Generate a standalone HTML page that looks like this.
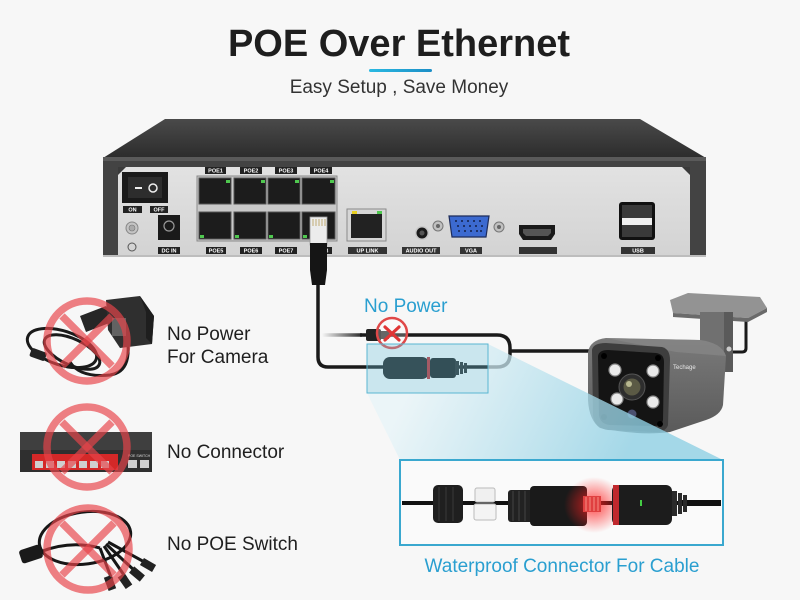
<!DOCTYPE html>
<html><head><meta charset="utf-8"><style>
html,body{margin:0;padding:0;background:#f7f7f7;}
svg{display:block;}
text{font-family:"Liberation Sans",Arial,sans-serif;}
.lb{font-size:5.5px;font-weight:bold;fill:#fff;text-anchor:middle;}
</style></head><body>
<svg width="800" height="600" viewBox="0 0 800 600" xmlns="http://www.w3.org/2000/svg">
<defs>
<linearGradient id="topf" x1="0" y1="0" x2="0" y2="1"><stop offset="0" stop-color="#4a4a4a"/><stop offset="1" stop-color="#2c2c2c"/></linearGradient>
<linearGradient id="panel" x1="0" y1="0" x2="0" y2="1"><stop offset="0" stop-color="#e2e2e2"/><stop offset="1" stop-color="#d3d3d3"/></linearGradient>
<linearGradient id="cone" x1="420" y1="370" x2="620" y2="470" gradientUnits="userSpaceOnUse"><stop offset="0" stop-color="#e6f4f8" stop-opacity="0.7"/><stop offset="1" stop-color="#8fd0e4" stop-opacity="0.8"/></linearGradient>
<linearGradient id="fade" x1="322" y1="0" x2="365" y2="0" gradientUnits="userSpaceOnUse"><stop offset="0" stop-color="#1a1a1a" stop-opacity="0"/><stop offset="1" stop-color="#1a1a1a"/></linearGradient>
<linearGradient id="body" x1="0" y1="0" x2="0" y2="1"><stop offset="0" stop-color="#7a7a7a"/><stop offset="1" stop-color="#5a5a5a"/></linearGradient>
<linearGradient id="uline" x1="0" y1="0" x2="1" y2="0"><stop offset="0" stop-color="#2ab9e2"/><stop offset="1" stop-color="#1c8ec6"/></linearGradient>
<radialGradient id="glow"><stop offset="0" stop-color="#ff2020" stop-opacity="0.8"/><stop offset="1" stop-color="#ff2020" stop-opacity="0"/></radialGradient>
</defs>
<rect width="800" height="600" fill="#f7f7f7"/>

<!-- Title -->
<text x="399" y="56" font-size="38" font-weight="bold" fill="#1e1e1e" text-anchor="middle">POE Over Ethernet</text>
<rect x="369" y="69" width="63" height="3" rx="1.5" fill="url(#uline)"/>
<text x="399" y="93" font-size="19" fill="#333" text-anchor="middle">Easy Setup , Save Money</text>

<!-- NVR -->
<polygon points="165,119 640,119 706,158 103,158" fill="url(#topf)"/>
<rect x="103" y="157" width="603" height="99" fill="#434343"/>
<rect x="103" y="157" width="603" height="4" fill="#5a5a5a"/>
<polygon points="118,167 690,167 690,255 118,255" fill="url(#panel)"/>
<polygon points="118,167 126,167 118,175" fill="#3a3a3a"/>
<polygon points="690,167 682,167 690,175" fill="#3a3a3a"/>
<rect x="103" y="255" width="603" height="2" fill="#bdbdbd"/>

<!-- switch -->
<rect x="122" y="172" width="46" height="31" fill="#1a1a1a"/>
<rect x="128" y="177" width="34" height="21" fill="#2d2d2d"/>
<rect x="135" y="187" width="7" height="2" fill="#eee"/>
<circle cx="153" cy="188" r="4" fill="none" stroke="#eee" stroke-width="1.5"/>
<rect x="123" y="206" width="19" height="7" fill="#222"/><text x="132.5" y="211.7" class="lb">ON</text>
<rect x="150" y="206" width="18" height="7" fill="#222"/><text x="159" y="211.7" class="lb">OFF</text>
<circle cx="132" cy="228" r="6" fill="#c4c4c4" stroke="#888"/><circle cx="132" cy="228" r="3" fill="#aaa" stroke="#777" stroke-width=".6"/>
<circle cx="132" cy="247" r="4" fill="none" stroke="#555" stroke-width="1"/>
<rect x="158" y="215" width="22" height="25" fill="#1a1a1a"/>
<circle cx="169" cy="226" r="5" fill="none" stroke="#999" stroke-width="1.2"/>
<rect x="158" y="247" width="22" height="7" fill="#222"/><text x="169" y="252.7" class="lb">DC IN</text>

<!-- POE block -->
<rect x="197" y="176" width="140" height="65" fill="#c9c9c9" stroke="#8a8a8a"/>
<g fill="#1c1c1c" stroke="#555" stroke-width="1">
<rect x="199" y="178" width="32" height="26"/><rect x="234" y="178" width="32" height="26"/><rect x="268" y="178" width="32" height="26"/><rect x="302" y="178" width="33" height="26"/>
<rect x="199" y="212" width="32" height="27"/><rect x="234" y="212" width="32" height="27"/><rect x="268" y="212" width="32" height="27"/><rect x="302" y="212" width="33" height="27"/>
</g>
<g fill="#4fc84f">
<rect x="226" y="180" width="4" height="3"/><rect x="261" y="180" width="4" height="3"/><rect x="295" y="180" width="4" height="3"/><rect x="330" y="180" width="4" height="3"/>
<rect x="200" y="235" width="4" height="3"/><rect x="235" y="235" width="4" height="3"/><rect x="269" y="235" width="4" height="3"/><rect x="303" y="235" width="4" height="3"/>
</g>
<g fill="#222">
<rect x="205" y="167" width="21" height="7"/><rect x="240" y="167" width="22" height="7"/><rect x="275" y="167" width="22" height="7"/><rect x="310" y="167" width="22" height="7"/>
<rect x="206" y="247" width="20" height="7"/><rect x="240" y="247" width="22" height="7"/><rect x="275" y="247" width="22" height="7"/><rect x="310" y="247" width="22" height="7"/>
</g>
<text x="215.5" y="172.7" class="lb">POE1</text><text x="251" y="172.7" class="lb">POE2</text><text x="286" y="172.7" class="lb">POE3</text><text x="321" y="172.7" class="lb">POE4</text>
<text x="216" y="252.7" class="lb">POE5</text><text x="251" y="252.7" class="lb">POE6</text><text x="286" y="252.7" class="lb">POE7</text><text x="321" y="252.7" class="lb">POE8</text>

<!-- RJ45 plug into POE8 -->
<rect x="310" y="217" width="17" height="28" fill="#ececec" stroke="#999" stroke-width=".8"/>
<g stroke="#b09040" stroke-width=".7"><line x1="313" y1="219" x2="313" y2="226"/><line x1="316" y1="219" x2="316" y2="226"/><line x1="319" y1="219" x2="319" y2="226"/><line x1="322" y1="219" x2="322" y2="226"/><line x1="325" y1="219" x2="325" y2="226"/></g>
<polygon points="310,243 327,243 327,270 325,285 312,285 310,270" fill="#151515"/>

<!-- UPLINK -->
<rect x="347" y="209" width="39" height="32" fill="#d6d6d6" stroke="#8a8a8a"/>
<rect x="351" y="214" width="31" height="24" fill="#222"/>
<rect x="352" y="211" width="5" height="3" fill="#e8d020"/><rect x="377" y="211" width="5" height="3" fill="#4fc84f"/>
<rect x="348" y="247" width="39" height="7" fill="#333"/><text x="367.5" y="252.7" class="lb">UP LINK</text>
<!-- audio -->
<circle cx="422" cy="233" r="7" fill="#c8c8c8"/><circle cx="422" cy="233" r="5.5" fill="#1a1a1a"/><circle cx="422" cy="233" r="2.5" fill="#555"/>
<rect x="402" y="247" width="38" height="7" fill="#333"/><text x="421" y="252.7" class="lb">AUDIO OUT</text>
<!-- VGA -->
<circle cx="438" cy="226" r="5" fill="#c0c0c0" stroke="#777"/><circle cx="438" cy="226" r="2" fill="#666"/>
<circle cx="499" cy="227" r="5" fill="#c0c0c0" stroke="#777"/><circle cx="499" cy="227" r="2" fill="#666"/>
<path d="M449,216 H489 L486,237 H452 Z" fill="#3c6ad0" stroke="#1e2c5a" stroke-width="1.2"/>
<g fill="#14204a"><circle cx="456" cy="221" r="1"/><circle cx="462" cy="221" r="1"/><circle cx="468" cy="221" r="1"/><circle cx="474" cy="221" r="1"/><circle cx="480" cy="221" r="1"/>
<circle cx="458" cy="226" r="1"/><circle cx="464" cy="226" r="1"/><circle cx="470" cy="226" r="1"/><circle cx="476" cy="226" r="1"/><circle cx="482" cy="226" r="1"/>
<circle cx="459" cy="231" r="1"/><circle cx="465" cy="231" r="1"/><circle cx="471" cy="231" r="1"/><circle cx="477" cy="231" r="1"/><circle cx="481" cy="231" r="1"/></g>
<rect x="460" y="247" width="22" height="7" fill="#333"/><text x="471" y="252.7" class="lb">VGA</text>
<!-- HDMI -->
<path d="M519,225 H555 V234 L551,240 H523 L519,234 Z" fill="#1a1a1a"/>
<path d="M523,229 H551 V233 L548,236 H526 L523,233 Z" fill="#555"/>
<rect x="519" y="247" width="38" height="7" fill="#333"/>
<!-- USB -->
<rect x="619" y="202" width="36" height="38" rx="3" fill="#111"/>
<rect x="622" y="205" width="30" height="14" fill="#3a3a3a"/>
<rect x="622" y="218" width="30" height="7" fill="#f0f0f0"/>
<rect x="622" y="225" width="30" height="12" fill="#3a3a3a"/>
<rect x="621" y="247" width="34" height="7" fill="#333"/><text x="638" y="252.7" class="lb">USB</text>

<!-- cables -->
<path d="M318,285 V357 Q318,367 328,367 H497 Q510,367 510,354 V348 Q510,335 497,335 H360" fill="none" stroke="#1a1a1a" stroke-width="3.5"/>
<line x1="322" y1="335" x2="362" y2="335" stroke="url(#fade)" stroke-width="3.5"/>
<line x1="510" y1="351" x2="592" y2="351" stroke="#1a1a1a" stroke-width="3.5"/>
<!-- DC plug -->
<rect x="366" y="329" width="15" height="12" rx="2" fill="#222"/>
<rect x="381" y="331" width="8" height="8" fill="#333"/>
<circle cx="392" cy="333" r="15" fill="#ffffff" fill-opacity="0.25" stroke="#e04848" stroke-width="2.5"/>
<g stroke="#e03535" stroke-width="3.2" stroke-linecap="round"><line x1="385" y1="327" x2="399" y2="340"/><line x1="399" y1="327" x2="385" y2="340"/></g>
<text x="364" y="312" font-size="19" fill="#2a9fd0">No Power</text>
<!-- waterproof connector on cable -->
<rect x="383" y="357" width="46" height="22" rx="7" fill="#1c1c1c"/>
<rect x="427" y="357" width="3" height="22" fill="#c0282d"/>
<rect x="430" y="358" width="26" height="20" rx="3" fill="#181818"/>
<g fill="#262626"><rect x="455" y="361" width="4" height="14"/><rect x="460" y="362" width="3" height="12"/><rect x="464" y="363" width="3" height="10"/></g>

<!-- camera -->
<path d="M723,352 H742 Q746,352 746,348 V318" fill="none" stroke="#1a1a1a" stroke-width="3"/>
<polygon points="670,300 688,293 760,297 767,308 748,318 673,313" fill="#939393"/>
<polygon points="673,313 748,318 767,308 767,312 748,322 673,317" fill="#6a6a6a"/>
<rect x="700" y="312" width="33" height="60" fill="#707070"/>
<rect x="724" y="312" width="9" height="60" fill="#5a5a5a"/>
<circle cx="729" cy="349" r="2.5" fill="#ccc"/>
<path d="M588,352 Q590,340 606,338 L700,340 Q722,343 726,356 L723,405 Q721,415 706,420 L670,432 Q640,436 600,428 Q589,420 588,400 Z" fill="url(#body)"/>
<path d="M606,338 L700,340 Q722,343 726,356 L676,352 Z" fill="#8a8a8a" opacity=".6"/>
<path d="M592,350 Q593,343 606,343 L662,347 Q670,349 670,360 L668,425 Q666,432 655,432 L608,430 Q594,428 593,415 Z" fill="#3e3e3e"/>
<path d="M598,356 Q599,350 608,350 L656,353 Q664,354 664,362 L663,420 Q662,426 654,426 L610,425 Q600,424 599,415 Z" fill="#141414"/>
<g fill="#000"><circle cx="604" cy="356" r="3"/><circle cx="658" cy="358" r="3"/><circle cx="604" cy="417" r="3"/><circle cx="660" cy="424" r="3"/></g>
<g fill="#eaeaea" stroke="#888" stroke-width="1.2"><circle cx="615" cy="370" r="6"/><circle cx="653" cy="371" r="6"/><circle cx="617" cy="399" r="6"/><circle cx="653" cy="402" r="6"/></g>
<circle cx="632" cy="387" r="13" fill="#2e2e2e" stroke="#555"/>
<circle cx="632" cy="387" r="8.5" fill="#5b5a45"/>
<circle cx="629" cy="384" r="3" fill="#b8b890"/>
<circle cx="632" cy="414" r="4.5" fill="#4a5070"/>
<text x="673" y="369" font-size="6" fill="#e8e8e8">Techage</text>

<!-- cone -->
<polygon points="367,393 488,393 488,344 723,460 400,460" fill="url(#cone)"/>
<!-- highlight box -->
<rect x="367" y="344" width="121" height="49" fill="#6cc3dd" fill-opacity="0.32" stroke="#5ab6d2" stroke-width="1"/>

<!-- large box -->
<rect x="400" y="460" width="323" height="85" fill="#fafafa" stroke="#3aa8cf" stroke-width="2"/>
<line x1="402" y1="503" x2="690" y2="503" stroke="#111" stroke-width="4"/>
<line x1="680" y1="503" x2="721" y2="503" stroke="#111" stroke-width="6"/>
<rect x="433" y="485" width="30" height="38" rx="5" fill="#1f1f1f"/>
<g stroke="#3a3a3a" stroke-width="1"><line x1="439" y1="487" x2="439" y2="521"/><line x1="446" y1="487" x2="446" y2="521"/><line x1="453" y1="487" x2="453" y2="521"/></g>
<rect x="475" y="488" width="20" height="14" rx="2" fill="#f0f0f0" stroke="#bbb"/>
<rect x="474" y="504" width="22" height="16" rx="2" fill="#f4f4f4" stroke="#bbb"/>
<rect x="508" y="490" width="26" height="32" rx="3" fill="#222"/>
<g stroke="#444" stroke-width="1"><line x1="513" y1="491" x2="513" y2="521"/><line x1="519" y1="491" x2="519" y2="521"/><line x1="525" y1="491" x2="525" y2="521"/></g>
<rect x="530" y="486" width="57" height="40" rx="4" fill="#1a1a1a"/>
<ellipse cx="594" cy="505" rx="30" ry="28" fill="url(#glow)"/>
<rect x="583" y="496" width="18" height="16" fill="#e04040"/>
<g stroke="#ffb0a0" stroke-width=".7"><line x1="586" y1="497" x2="586" y2="511"/><line x1="590" y1="497" x2="590" y2="511"/><line x1="594" y1="497" x2="594" y2="511"/><line x1="598" y1="497" x2="598" y2="511"/></g>
<rect x="612" y="485" width="60" height="40" rx="6" fill="#1c1c1c"/>
<rect x="613" y="485" width="6" height="40" fill="#c0282d"/>
<rect x="640" y="500" width="2" height="6" fill="#4c4"/>
<g fill="#2a2a2a"><rect x="672" y="491" width="5" height="25"/><rect x="678" y="493" width="4" height="21"/><rect x="683" y="495" width="4" height="17"/></g>
<text x="562" y="572" font-size="19" fill="#2a9fd0" text-anchor="middle">Waterproof Connector For Cable</text>

<!-- Left: power adapter -->
<g fill="none" stroke="#1a1a1a" stroke-width="3">
<ellipse cx="62" cy="348" rx="36" ry="17" transform="rotate(18 62 348)"/>
<ellipse cx="72" cy="352" rx="30" ry="13" transform="rotate(25 72 352)"/>
<path d="M128,345 Q130,372 110,375 Q80,378 70,362"/>
</g>
<rect x="30" y="350" width="16" height="9" rx="2" fill="#222" transform="rotate(20 38 355)"/>
<polygon points="80,316 106,306 112,322 86,332" fill="#262626"/>
<polygon points="106,300 140,296 154,316 152,344 120,348 108,330" fill="#2f2f2f"/>
<polygon points="140,296 154,316 152,344 146,338 146,312" fill="#1e1e1e"/>
<rect x="112" y="318" width="14" height="18" fill="#777" opacity=".7"/>
<!-- switch -->
<rect x="20" y="432" width="132" height="20" fill="#3f3f3f"/>
<rect x="20" y="450" width="132" height="22" fill="#2f2f2f"/>
<rect x="32" y="454" width="86" height="16" fill="#d42828"/>
<g fill="#cfcfcf"><rect x="35" y="461" width="8" height="7"/><rect x="46" y="461" width="8" height="7"/><rect x="57" y="461" width="8" height="7"/><rect x="68" y="461" width="8" height="7"/><rect x="79" y="461" width="8" height="7"/><rect x="90" y="461" width="8" height="7"/><rect x="101" y="461" width="8" height="7"/><rect x="128" y="460" width="9" height="8"/><rect x="140" y="460" width="9" height="8"/></g>
<text x="128" y="457" font-size="3.5" fill="#ddd">POE SWITCH</text>
<!-- splitter -->
<g fill="none" stroke="#161616" stroke-width="3">
<ellipse cx="85" cy="538" rx="46" ry="26" transform="rotate(-8 85 538)"/>
<path d="M40,552 Q70,540 100,548"/>
<path d="M100,548 L112,580"/><path d="M104,546 L126,578"/><path d="M106,544 L136,572"/><path d="M108,542 L148,564"/>
</g>
<rect x="20" y="547" width="22" height="14" rx="3" fill="#1a1a1a" transform="rotate(-18 31 554)"/>
<g fill="#222"><rect x="106" y="576" width="8" height="14" transform="rotate(-20 110 583)"/><rect x="121" y="574" width="8" height="14" transform="rotate(-35 125 581)"/><rect x="133" y="567" width="8" height="14" transform="rotate(-50 137 574)"/><rect x="144" y="558" width="8" height="14" transform="rotate(-60 148 565)"/></g>

<!-- red prohibition marks -->
<g fill="none" stroke="#e8444a" stroke-opacity="0.68" stroke-width="7.5">
<circle cx="87" cy="341" r="40"/>
<line x1="62" y1="316" x2="112" y2="366"/><line x1="112" y1="316" x2="62" y2="366"/>
<circle cx="87" cy="447" r="40"/>
<line x1="62" y1="422" x2="112" y2="472"/><line x1="112" y1="422" x2="62" y2="472"/>
<circle cx="88" cy="549" r="41"/>
<line x1="62" y1="523" x2="114" y2="575"/><line x1="114" y1="523" x2="62" y2="575"/>
</g>

<g font-size="19" fill="#1f1f1f">
<text x="167" y="340">No Power</text>
<text x="167" y="363">For Camera</text>
<text x="167" y="458">No Connector</text>
<text x="167" y="550">No POE Switch</text>
</g>
</svg>
</body></html>
